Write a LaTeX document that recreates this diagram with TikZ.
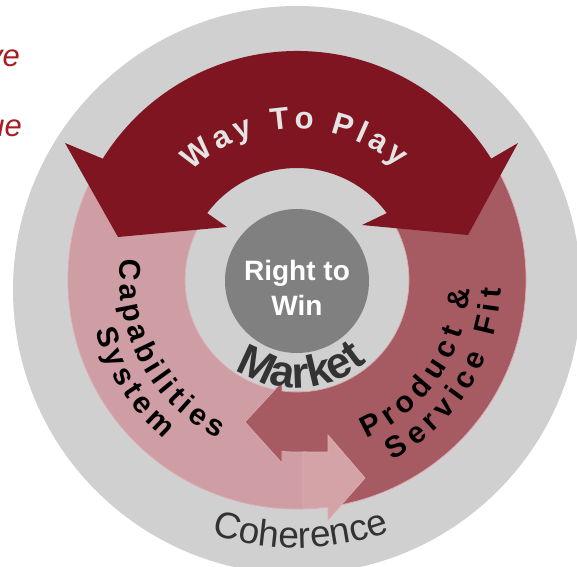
\documentclass[tikz,border=0pt]{standalone}
\usepackage{fontspec}
\setmainfont{Liberation Sans}
\usetikzlibrary{decorations.text}

\definecolor{ringgrey}{HTML}{D0D0D0}
\definecolor{coregrey}{HTML}{808080}
\definecolor{wayred}{HTML}{7F1520}
\definecolor{waygrey}{HTML}{E4E4E4}
\definecolor{capspink}{HTML}{CF9EA4}
\definecolor{headpink}{HTML}{D4A3A8}
\definecolor{fitrose}{HTML}{A65A62}
\definecolor{edgepink}{HTML}{DDAAAF}
\definecolor{inkgrey}{HTML}{333333}
\definecolor{sidered}{HTML}{A51E25}

\newcommand{\wayfont}{\fontsize{31}{31}\selectfont\bfseries}
\newcommand{\ringfont}{\fontsize{30}{30}\selectfont\bfseries}
\newcommand{\marketfont}{\fontsize{44}{44}\selectfont\bfseries}
\newcommand{\coherencefont}{\fontsize{37}{37}\selectfont}
\newcommand{\corefont}{\fontsize{28}{35}\selectfont\bfseries}
\newcommand{\sidefont}{\fontsize{31}{31}\selectfont\itshape}

\begin{document}
\begin{tikzpicture}[
  x=1pt, y=1pt,
  backdisk/.style={fill=ringgrey},
  capsring/.style={fill=capspink, draw=edgepink, line width=0.7},
  capshead/.style={fill=headpink, draw=edgepink, line width=0.7},
  fitarrow/.style={fill=fitrose, draw=edgepink, line width=0.7},
  wayarrow/.style={fill=wayred},
  coredisk/.style={circle, fill=coregrey, minimum size=144, inner sep=0pt},
  coretext/.style={text=white, align=center, font=\corefont, inner sep=0pt},
  sidetext/.style={text=sidered, font=\sidefont, inner sep=0pt},
  ringtext/.style={decorate, decoration={text along path, text align={fit to path}, text={#1}}}
]

\useasboundingbox (-297,-286) rectangle (280,280);
\clip (-297,-286) rectangle (280,280);

\fill[backdisk] (0,-10) circle[radius=284];

% left lane
\filldraw[capsring] (150:229) arc[start angle=150, end angle=273, radius=229]
  -- (273:112) arc[start angle=273, end angle=150, radius=112] -- cycle;

% right lane, head turns back to the left
\filldraw[fitarrow] (30:229) arc[start angle=30, end angle=-87, radius=229]
  -- (-87:172) arc[start angle=-87, end angle=-95, radius=172]
  -- (-15,-183) -- (-52,-142) -- (-15,-102) -- (-97.7:112)
  arc[start angle=-97.7, end angle=30, radius=112] -- cycle;

% head of the left lane
\filldraw[capshead] (6,-172) -- (31,-172) -- (31,-155) -- (68,-198)
  -- (31,-240) -- (31,-226.9) -- (6,-228.9) -- cycle;

% top band with two heads
\fill[wayarrow] (148:229) arc[start angle=148, end angle=32, radius=229]
  -- (221,137) -- (171,45) -- (65,55) -- (36.7:112)
  arc[start angle=36.7, end angle=143.3, radius=112]
  -- (-70,53) -- (-179,43) -- (-232,137) -- cycle;

\node[coredisk] (core) at (0,-1) {};
\node[coretext, yshift=-6.5] (corelabel) at (core.center) {Right to\\Win};

\path[ringtext={|\wayfont|Way To Play}, decoration={text color=waygrey}]
  (134:151) arc[start angle=134, end angle=48, radius=151];
\path[ringtext={|\ringfont|Capabilities}]
  (173:177) arc[start angle=173, end angle=243.5, radius=177];
\path[ringtext={|\ringfont|System}]
  (194:207) arc[start angle=194, end angle=230, radius=207];
\path[ringtext={|\ringfont|Product {\&}}]
  (-66.5:173) arc[start angle=-66.5, end angle=-3, radius=173];
\path[ringtext={|\ringfont|Service Fit}]
  (-62:204) arc[start angle=-62, end angle=-2.5, radius=204];
\path[decorate, decoration={text along path, text align=center,
    text={|\marketfont|Market}, text color=inkgrey}]
  (200:108) arc[start angle=200, end angle=346, radius=108];
\path[ringtext={|\coherencefont|Coherence}, decoration={text color=inkgrey}]
  (251.5:268) arc[start angle=251.5, end angle=289.4, radius=268];

\node[sidetext, anchor=base east] (vetail) at (-277,214) {ve};
\node[sidetext, anchor=base east] (uetail) at (-275,144) {ue};

\end{tikzpicture}
\end{document}
